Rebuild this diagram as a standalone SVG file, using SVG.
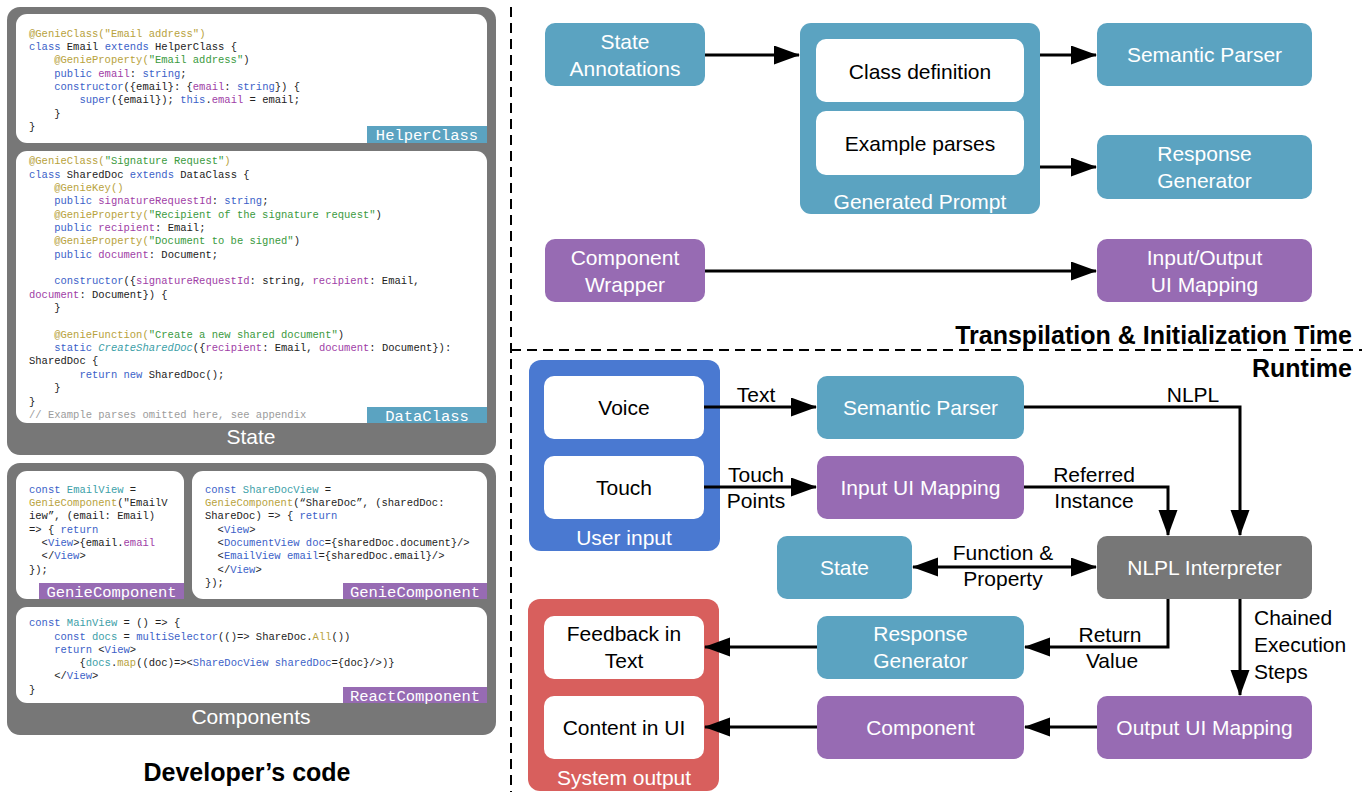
<svg xmlns="http://www.w3.org/2000/svg" width="1369" height="792" viewBox="0 0 1369 792">
  <style>
    .code { font-family: "Liberation Mono", "DejaVu Sans Mono", monospace; font-size: 10.5px; fill: #222; white-space: pre; }
    .k { fill: #3b5fc8; }
    .a { fill: #b8a23c; }
    .s { fill: #3a9a40; }
    .p { fill: #a040a6; }
    .t { fill: #3ca0a8; }
    .c { fill: #9c9c9c; }
    .it { font-style: italic; }
    .panel { fill: #777777; }
    .sheet { fill: #ffffff; }
    .tag { font-family: "Liberation Mono", "DejaVu Sans Mono", monospace; font-size: 15.5px; fill: #ffffff; text-anchor: middle; }
    .teal { fill: #5ba3c1; }
    .purple { fill: #976bb3; }
    .blue { fill: #4a79d1; }
    .red { fill: #d85f5d; }
    .gray { fill: #777777; }
    .white { fill: #ffffff; }
    .lbl { font-family: "Liberation Sans", Arial, sans-serif; font-size: 21px; text-anchor: middle; }
    .lw { fill: #ffffff; }
    .lb { fill: #000000; }
    .edge-label { font-family: "Liberation Sans", Arial, sans-serif; font-size: 21px; fill: #000; text-anchor: middle; }
    .edge-label.left { text-anchor: start; }
    .title { font-family: "Liberation Sans", Arial, sans-serif; font-size: 25px; font-weight: bold; fill: #000; }
    .wire { fill: none; stroke: #000; stroke-width: 3; }
    .dash { fill: none; stroke: #000; stroke-width: 2; stroke-dasharray: 10 6; }
  </style>
  <defs>
    <marker id="head" markerUnits="userSpaceOnUse" markerWidth="26" markerHeight="20" refX="25" refY="9.5" orient="auto-start-reverse">
      <path d="M0,0 L26,9.5 L0,19 Z" fill="#000"/>
    </marker>
  </defs>

  <rect width="1369" height="792" fill="#ffffff"/>

  <!-- ===== Developer's code: State ===== -->
  <g id="state-panel">
    <rect class="panel" x="7" y="7" width="489" height="448" rx="13"/>
    <g id="helper-class">
      <rect class="sheet" x="16" y="14" width="471" height="129" rx="11"/>
      <rect class="teal" x="367" y="126" width="120" height="17"/>
      <text class="tag" x="427" y="140">HelperClass</text>
      <text class="code" x="29" y="36.5"><tspan class="a">@GenieClass("Email address")</tspan></text>
      <text class="code" x="29" y="49.8"><tspan class="k">class</tspan> Email <tspan class="k">extends</tspan> HelperClass {</text>
      <text class="code" x="54.2" y="63.2"><tspan class="a">@GenieProperty(</tspan><tspan class="s">"Email address"</tspan>)</text>
      <text class="code" x="54.2" y="76.5"><tspan class="k">public</tspan> <tspan class="p">email</tspan>: <tspan class="k">string</tspan>;</text>
      <text class="code" x="54.2" y="89.8"><tspan class="k">constructor</tspan>({email}: {<tspan class="p">email</tspan>: <tspan class="k">string</tspan>}) {</text>
      <text class="code" x="79.4" y="103.2"><tspan class="k">super</tspan>({email}); <tspan class="k">this</tspan>.<tspan class="p">email</tspan> = email;</text>
      <text class="code" x="54.2" y="116.5">}</text>
      <text class="code" x="29" y="129.8">}</text>
    </g>
    <g id="data-class">
      <rect class="sheet" x="16" y="151" width="471" height="272" rx="11"/>
      <rect class="teal" x="367" y="407" width="120" height="16"/>
      <text class="tag" x="427" y="420.5">DataClass</text>
      <text class="code" x="29" y="164.2"><tspan class="a">@GenieClass(</tspan><tspan class="s">"Signature Request"</tspan><tspan class="a">)</tspan></text>
      <text class="code" x="29" y="177.55"><tspan class="k">class</tspan> SharedDoc <tspan class="k">extends</tspan> DataClass {</text>
      <text class="code" x="54.2" y="190.9"><tspan class="a">@GenieKey()</tspan></text>
      <text class="code" x="54.2" y="204.25"><tspan class="k">public</tspan> <tspan class="p">signatureRequestId</tspan>: <tspan class="k">string</tspan>;</text>
      <text class="code" x="54.2" y="217.6"><tspan class="a">@GenieProperty(</tspan><tspan class="s">"Recipient of the signature request"</tspan>)</text>
      <text class="code" x="54.2" y="230.95"><tspan class="k">public</tspan> <tspan class="p">recipient</tspan>: Email;</text>
      <text class="code" x="54.2" y="244.3"><tspan class="a">@GenieProperty(</tspan><tspan class="s">"Document to be signed"</tspan>)</text>
      <text class="code" x="54.2" y="257.65"><tspan class="k">public</tspan> <tspan class="p">document</tspan>: Document;</text>
      <text class="code" x="54.2" y="284.35"><tspan class="k">constructor</tspan>({<tspan class="p">signatureRequestId</tspan>: string, <tspan class="p">recipient</tspan>: Email,</text>
      <text class="code" x="29" y="297.7"><tspan class="p">document</tspan>: Document}) {</text>
      <text class="code" x="54.2" y="311.05">}</text>
      <text class="code" x="54.2" y="337.75"><tspan class="a">@GenieFunction(</tspan><tspan class="s">"Create a new shared document"</tspan>)</text>
      <text class="code" x="54.2" y="351.1"><tspan class="k">static</tspan> <tspan class="t it">CreateSharedDoc</tspan>({<tspan class="p">recipient</tspan>: Email, <tspan class="p">document</tspan>: Document}):</text>
      <text class="code" x="29" y="364.45">SharedDoc {</text>
      <text class="code" x="79.4" y="377.8"><tspan class="k">return</tspan> <tspan class="k">new</tspan> SharedDoc();</text>
      <text class="code" x="54.2" y="391.15">}</text>
      <text class="code" x="29" y="404.5">}</text>
      <text class="code" x="29" y="417.85"><tspan class="c">// Example parses omitted here, see appendix</tspan></text>
    </g>
    <text class="lbl lw" x="251" y="444">State</text>
  </g>

  <!-- ===== Developer's code: Components ===== -->
  <g id="components-panel">
    <rect class="panel" x="7" y="463" width="489" height="272" rx="13"/>
    <g id="email-view">
      <rect class="sheet" x="16" y="471" width="168" height="128" rx="11"/>
      <rect class="purple" x="39" y="583" width="145" height="16"/>
      <text class="tag" x="111.5" y="596.5">GenieComponent</text>
      <text class="code" x="29" y="492.8"><tspan class="k">const</tspan> <tspan class="t">EmailView</tspan> =</text>
      <text class="code" x="29" y="506.1"><tspan class="a">GenieComponent</tspan>("EmailV</text>
      <text class="code" x="29" y="519.4">iew”, (email: Email)</text>
      <text class="code" x="29" y="532.7">=&gt; { <tspan class="k">return</tspan></text>
      <text class="code" x="41.6" y="546"><tspan>&lt;</tspan><tspan class="k">View</tspan>&gt;{email.<tspan class="p">email</tspan></text>
      <text class="code" x="41.6" y="559.3">&lt;/<tspan class="k">View</tspan>&gt;</text>
      <text class="code" x="29" y="572.6">});</text>
    </g>
    <g id="share-doc-view">
      <rect class="sheet" x="192" y="471" width="295" height="128" rx="11"/>
      <rect class="purple" x="343" y="583" width="144" height="16"/>
      <text class="tag" x="415" y="596.5">GenieComponent</text>
      <text class="code" x="205" y="492.8"><tspan class="k">const</tspan> <tspan class="t">ShareDocView</tspan> =</text>
      <text class="code" x="205" y="506.1"><tspan class="a">GenieComponent</tspan>(“ShareDoc”, (sharedDoc:</text>
      <text class="code" x="205" y="519.4">ShareDoc) =&gt; { <tspan class="k">return</tspan></text>
      <text class="code" x="217.6" y="532.7">&lt;<tspan class="k">View</tspan>&gt;</text>
      <text class="code" x="217.6" y="546">&lt;<tspan class="k">DocumentView</tspan> <tspan class="k">doc</tspan>={sharedDoc.document}/&gt;</text>
      <text class="code" x="217.6" y="559.3">&lt;<tspan class="k">EmailView</tspan> <tspan class="k">email</tspan>={sharedDoc.email}/&gt;</text>
      <text class="code" x="217.6" y="572.6">&lt;/<tspan class="k">View</tspan>&gt;</text>
      <text class="code" x="205" y="585.9">});</text>
    </g>
    <g id="main-view">
      <rect class="sheet" x="16" y="607" width="471" height="96" rx="11"/>
      <rect class="purple" x="343" y="687" width="144" height="16"/>
      <text class="tag" x="415" y="700.5">ReactComponent</text>
      <text class="code" x="29" y="626.2"><tspan class="k">const</tspan> <tspan class="t">MainView</tspan> = () =&gt; {</text>
      <text class="code" x="54.2" y="639.5"><tspan class="k">const</tspan> <tspan class="t">docs</tspan> = <tspan class="k">multiSelector</tspan>(()=&gt; ShareDoc.<tspan class="a">All</tspan>())</text>
      <text class="code" x="54.2" y="652.8"><tspan class="k">return</tspan> &lt;<tspan class="k">View</tspan>&gt;</text>
      <text class="code" x="79.4" y="666.1">{<tspan class="t">docs</tspan>.<tspan class="a">map</tspan>((doc)=&gt;&lt;<tspan class="k">ShareDocView</tspan> <tspan class="k">sharedDoc</tspan>={doc}/&gt;)}</text>
      <text class="code" x="54.2" y="679.4">&lt;/<tspan class="k">View</tspan>&gt;</text>
      <text class="code" x="29" y="692.7">}</text>
    </g>
    <text class="lbl lw" x="251" y="724">Components</text>
  </g>

  <text class="title" x="247" y="781" text-anchor="middle">Developer’s code</text>

  <!-- ===== Phase separators ===== -->
  <g id="separators">
    <path class="dash" d="M511,7 V792"/>
    <path class="dash" d="M511,350 H1362"/>
    <text class="title" x="1352" y="344" text-anchor="end">Transpilation &amp; Initialization Time</text>
    <text class="title" x="1352" y="377" text-anchor="end">Runtime</text>
  </g>

  <!-- ===== Transpilation & initialization nodes ===== -->
  <g id="state-annotations">
    <rect class="teal" x="545" y="23" width="160" height="63" rx="10"/>
    <text class="lbl lw" x="625" y="49">State</text>
    <text class="lbl lw" x="625" y="76">Annotations</text>
  </g>
  <g id="generated-prompt">
    <rect class="teal" x="800" y="23" width="240" height="191" rx="11"/>
    <rect class="white" x="816" y="39" width="208" height="63" rx="10"/>
    <text class="lbl lb" x="920" y="79">Class definition</text>
    <rect class="white" x="816" y="111" width="208" height="64" rx="10"/>
    <text class="lbl lb" x="920" y="151">Example parses</text>
    <text class="lbl lw" x="920" y="209">Generated Prompt</text>
  </g>
  <g id="semantic-parser-init">
    <rect class="teal" x="1097" y="23" width="215" height="63" rx="10"/>
    <text class="lbl lw" x="1204.5" y="62">Semantic Parser</text>
  </g>
  <g id="response-generator-init">
    <rect class="teal" x="1097" y="135" width="215" height="64" rx="10"/>
    <text class="lbl lw" x="1204.5" y="161">Response</text>
    <text class="lbl lw" x="1204.5" y="188">Generator</text>
  </g>
  <g id="component-wrapper">
    <rect class="purple" x="545" y="239" width="160" height="63" rx="10"/>
    <text class="lbl lw" x="625" y="265">Component</text>
    <text class="lbl lw" x="625" y="292">Wrapper</text>
  </g>
  <g id="io-ui-mapping">
    <rect class="purple" x="1097" y="239" width="215" height="63" rx="10"/>
    <text class="lbl lw" x="1204.5" y="265">Input/Output</text>
    <text class="lbl lw" x="1204.5" y="292">UI Mapping</text>
  </g>

  <!-- ===== Runtime nodes ===== -->
  <g id="user-input">
    <rect class="blue" x="529" y="360" width="191" height="191" rx="12"/>
    <rect class="white" x="544" y="376" width="160" height="63" rx="10"/>
    <text class="lbl lb" x="624" y="415">Voice</text>
    <rect class="white" x="544" y="456" width="160" height="63" rx="10"/>
    <text class="lbl lb" x="624" y="495">Touch</text>
    <text class="lbl lw" x="624" y="545">User input</text>
  </g>
  <g id="system-output">
    <rect class="red" x="528" y="599" width="191" height="192" rx="12"/>
    <rect class="white" x="544" y="616" width="160" height="63" rx="10"/>
    <text class="lbl lb" x="624" y="641">Feedback in</text>
    <text class="lbl lb" x="624" y="668">Text</text>
    <rect class="white" x="544" y="696" width="160" height="63" rx="10"/>
    <text class="lbl lb" x="624" y="735">Content in UI</text>
    <text class="lbl lw" x="624" y="785">System output</text>
  </g>
  <g id="semantic-parser">
    <rect class="teal" x="817" y="376" width="207" height="63" rx="10"/>
    <text class="lbl lw" x="920.5" y="415">Semantic Parser</text>
  </g>
  <g id="input-ui-mapping">
    <rect class="purple" x="817" y="456" width="207" height="63" rx="10"/>
    <text class="lbl lw" x="920.5" y="495">Input UI Mapping</text>
  </g>
  <g id="state">
    <rect class="teal" x="777" y="536" width="135" height="63" rx="10"/>
    <text class="lbl lw" x="844.5" y="575">State</text>
  </g>
  <g id="nlpl-interpreter">
    <rect class="gray" x="1097" y="536" width="215" height="63" rx="10"/>
    <text class="lbl lw" x="1204.5" y="575">NLPL Interpreter</text>
  </g>
  <g id="response-generator">
    <rect class="teal" x="817" y="616" width="207" height="63" rx="10"/>
    <text class="lbl lw" x="920.5" y="641">Response</text>
    <text class="lbl lw" x="920.5" y="668">Generator</text>
  </g>
  <g id="component">
    <rect class="purple" x="817" y="696" width="207" height="63" rx="10"/>
    <text class="lbl lw" x="920.5" y="735">Component</text>
  </g>
  <g id="output-ui-mapping">
    <rect class="purple" x="1097" y="696" width="215" height="63" rx="10"/>
    <text class="lbl lw" x="1204.5" y="735">Output UI Mapping</text>
  </g>

  <!-- ===== Connectors ===== -->
  <g id="connectors">
    <path class="wire" d="M705,55 H799" marker-end="url(#head)"/>
    <path class="wire" d="M1040,55 H1096" marker-end="url(#head)"/>
    <path class="wire" d="M1040,167 H1096" marker-end="url(#head)"/>
    <path class="wire" d="M705,271 H1096" marker-end="url(#head)"/>

    <path class="wire" d="M704,407 H816" marker-end="url(#head)"/>
    <path class="wire" d="M704,487 H816" marker-end="url(#head)"/>
    <path class="wire" d="M1024,407 H1240 V535" marker-end="url(#head)"/>
    <path class="wire" d="M1024,487 H1168 V535" marker-end="url(#head)"/>
    <path class="wire" d="M913,567 H1096" marker-start="url(#head)" marker-end="url(#head)"/>
    <path class="wire" d="M1168,599 V647 H1025" marker-end="url(#head)"/>
    <path class="wire" d="M1240,599 V695" marker-end="url(#head)"/>
    <path class="wire" d="M817,647 H705" marker-end="url(#head)"/>
    <path class="wire" d="M1097,727 H1025" marker-end="url(#head)"/>
    <path class="wire" d="M817,727 H705" marker-end="url(#head)"/>

    <text class="edge-label" x="756" y="402">Text</text>
    <text class="edge-label" x="756" y="482">Touch</text>
    <text class="edge-label" x="756" y="508">Points</text>
    <text class="edge-label" x="1193" y="402">NLPL</text>
    <text class="edge-label" x="1094" y="482">Referred</text>
    <text class="edge-label" x="1094" y="508">Instance</text>
    <text class="edge-label" x="1003" y="560">Function &amp;</text>
    <text class="edge-label" x="1003" y="586">Property</text>
    <text class="edge-label" x="1110" y="642">Return</text>
    <text class="edge-label" x="1112" y="668">Value</text>
    <text class="edge-label left" x="1254" y="625">Chained</text>
    <text class="edge-label left" x="1254" y="652">Execution</text>
    <text class="edge-label left" x="1254" y="679">Steps</text>
  </g>
</svg>
